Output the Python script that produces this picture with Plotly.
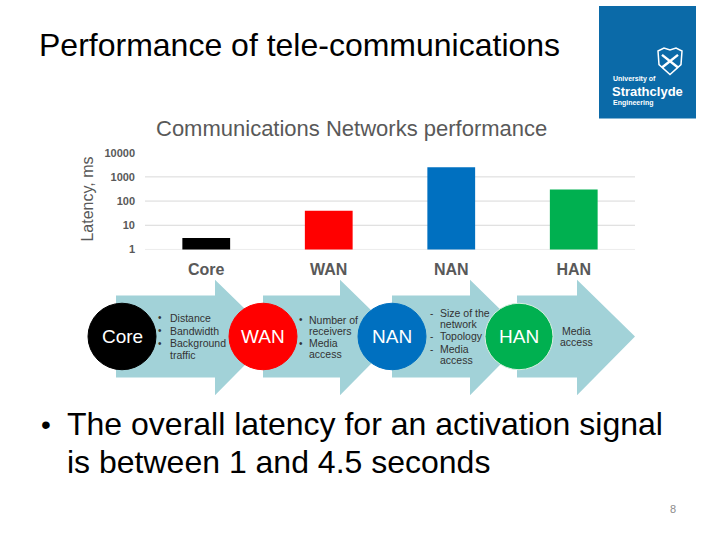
import plotly.graph_objects as go

W, H = 720, 540

# ---- data ----
categories = ["Core", "WAN", "NAN", "HAN"]
latency_ms = [3, 40, 2500, 300]
bar_colors = ["#000000", "#ff0000", "#0070c0", "#00b050"]
tick_values = [1, 10, 100, 1000, 10000]
tick_labels = ["1", "10", "100", "1000", "10000"]
grid_values = [1, 10, 100, 1000]

stage_names = ["Core", "WAN", "NAN", "HAN"]
stage_colors = ["#000000", "#ff0000", "#0070c0", "#00b050"]
stage_notes = [
    [("•", "Distance"), ("•", "Bandwidth"), ("•", "Background"), ("", "traffic")],
    [("•", "Number of"), ("", "receivers"), ("•", "Media"), ("", "access")],
    [("-", "Size of the"), ("", "network"), ("-", "Topology"), ("-", "Media"), ("", "access")],
    [("", "Media"), ("", "access")],
]


def px(x):
    return x / W


def py(y):
    return 1 - y / H


fig = go.Figure()
fig.add_trace(go.Bar(
    x=categories, y=latency_ms, marker=dict(color=bar_colors, line=dict(width=0)),
    width=0.39, showlegend=False, hoverinfo="x+y",
))

shapes = []
annotations = []

# gridlines
for v in grid_values:
    shapes.append(dict(type="line", xref="x domain", yref="y", x0=0, x1=1, y0=v, y1=v,
                       line=dict(color="#d9d9d9", width=1), layer="below"))

# ---- arrows ----
ARROW = "#a2d2d8"
arrow_specs = [(116, 215), (263, 340), (392, 470), (517, 577)]
for x0, xb in arrow_specs:
    tip = xb + 58
    pts = [(x0, 296), (xb, 296), (xb, 280), (tip, 338), (xb, 398), (xb, 380), (x0, 380)]
    path = "M " + " L ".join(f"{px(a):.5f},{py(b):.5f}" for a, b in pts) + " Z"
    shapes.append(dict(type="path", xref="paper", yref="paper", path=path,
                       fillcolor=ARROW, line=dict(width=0), layer="above"))

# ---- circles ----
centers = [(122, 338), (263, 338), (392, 338), (519, 338)]
R = 34
for (cx, cy), col, name in zip(centers, stage_colors, stage_names):
    shapes.append(dict(type="circle", xref="paper", yref="paper",
                       x0=px(cx - R), x1=px(cx + R), y0=py(cy + R), y1=py(cy - R),
                       fillcolor=col, line=dict(color="#d8efe0" if name == "HAN" else col, width=1),
                       layer="above"))
    annotations.append(dict(text=name, xref="paper", yref="paper", x=px(cx), y=py(cy),
                            xanchor="center", yanchor="middle", showarrow=False,
                            font=dict(family="Liberation Sans", size=19, color="white")))

# ---- bullet notes ----
NOTE = "#333333"
note_layout = [
    (160, 168, [319, 332, 345, 357]),
    (301, 307, [321, 332, 345, 356]),
    (431, 438, [314, 325, 338, 351, 362]),
]
for (bx, tx, ys), notes in zip(note_layout, stage_notes[:3]):
    for (b, t), y in zip(notes, ys):
        if b:
            annotations.append(dict(text=b, xref="paper", yref="paper", x=px(bx), y=py(y),
                                    xanchor="center", yanchor="middle", showarrow=False,
                                    font=dict(family="Liberation Sans", size=10, color=NOTE)))
        annotations.append(dict(text=t, xref="paper", yref="paper", x=px(tx), y=py(y),
                                xanchor="left", yanchor="middle", showarrow=False,
                                font=dict(family="Liberation Sans", size=10.5, color=NOTE)))
for (b, t), y in zip(stage_notes[3], [332, 344]):
    annotations.append(dict(text=t, xref="paper", yref="paper", x=px(576), y=py(y),
                            xanchor="center", yanchor="middle", showarrow=False,
                            font=dict(family="Liberation Sans", size=10.5, color=NOTE)))

# ---- titles and text ----
annotations += [
    dict(text="Performance of tele-communications", xref="paper", yref="paper",
         x=px(37), y=py(40), xanchor="left", yanchor="middle", showarrow=False,
         font=dict(family="Liberation Sans", size=32, color="black")),
    dict(text="Communications Networks performance", xref="paper", yref="paper",
         x=px(351), y=py(125), xanchor="center", yanchor="middle", showarrow=False,
         font=dict(family="Liberation Sans", size=22, color="#595959")),
    dict(text="Latency, ms", xref="paper", yref="paper", x=px(88), y=py(198),
         xanchor="center", yanchor="middle", textangle=-90, showarrow=False,
         font=dict(family="Liberation Sans", size=16, color="#595959")),
    dict(text="•", xref="paper", yref="paper", x=px(46), y=py(428),
         xanchor="center", yanchor="middle", showarrow=False,
         font=dict(family="Liberation Sans", size=28, color="black")),
    dict(text="The overall latency for an activation signal", xref="paper", yref="paper",
         x=px(65), y=py(428), xanchor="left", yanchor="middle", showarrow=False,
         font=dict(family="Liberation Sans", size=32, color="black")),
    dict(text="is between 1 and 4.5 seconds", xref="paper", yref="paper",
         x=px(65), y=py(466), xanchor="left", yanchor="middle", showarrow=False,
         font=dict(family="Liberation Sans", size=32, color="black")),
    dict(text="8", xref="paper", yref="paper", x=px(673), y=py(514),
         xanchor="center", yanchor="middle", showarrow=False,
         font=dict(family="Liberation Sans", size=11, color="#8c8c8c")),
]

# ---- logo ----
LOGO = "#0b6aa8"
shapes.append(dict(type="rect", xref="paper", yref="paper", x0=px(599), x1=px(696),
                   y0=py(115), y1=py(0), fillcolor=LOGO, line=dict(width=0)))
crest = [(658, 46), (664, 43), (670, 45), (676, 43), (682, 46), (681, 60), (670, 70), (659, 60)]
shapes.append(dict(type="path", xref="paper", yref="paper",
                   path="M " + " L ".join(f"{px(a):.5f},{py(b):.5f}" for a, b in crest) + " Z",
                   fillcolor=LOGO, line=dict(color="white", width=1.5)))
shapes.append(dict(type="path", xref="paper", yref="paper",
                   path=f"M {px(662):.5f},{py(50):.5f} L {px(678):.5f},{py(63):.5f} "
                        f"M {px(678):.5f},{py(50):.5f} L {px(662):.5f},{py(63):.5f}",
                   line=dict(color="white", width=2.5)))
annotations += [
    dict(text="<b>University of</b>", xref="paper", yref="paper", x=px(611), y=py(75),
         xanchor="left", yanchor="middle", showarrow=False,
         font=dict(family="Liberation Sans", size=7, color="white")),
    dict(text="<b>Strathclyde</b>", xref="paper", yref="paper", x=px(610), y=py(87),
         xanchor="left", yanchor="middle", showarrow=False,
         font=dict(family="Liberation Sans", size=13, color="white")),
    dict(text="<b>Engineering</b>", xref="paper", yref="paper", x=px(611), y=py(99),
         xanchor="left", yanchor="middle", showarrow=False,
         font=dict(family="Liberation Sans", size=7, color="white")),
]

fig.update_layout(
    width=W, height=H, autosize=False,
    margin=dict(l=0, r=0, t=0, b=0),
    paper_bgcolor="white", plot_bgcolor="white",
    shapes=shapes, annotations=annotations,
    bargap=0.6,
    xaxis=dict(domain=[px(145), px(635)], showgrid=False, zeroline=False, showline=False,
               ticks="", ticklabelstandoff=9,
               tickfont=dict(family="Liberation Sans", size=16, color="#595959", weight="bold")),
    yaxis=dict(domain=[py(249), py(150)], type="log", range=[0, 4],
               tickvals=tick_values, ticktext=tick_labels,
               showgrid=False, zeroline=False, showline=False, ticks="", ticklabelstandoff=9,
               tickfont=dict(family="Liberation Sans", size=11, color="#595959", weight="bold")),
)

fig.write_html(
    "out.html",
    config={"displayModeBar": False},
    post_script=(
        "document.body.style.margin='0';"
        "var d=document.getElementById('{plot_id}');"
        "d.style.position='fixed';d.style.left='0px';d.style.top='0px';"
    ),
)
